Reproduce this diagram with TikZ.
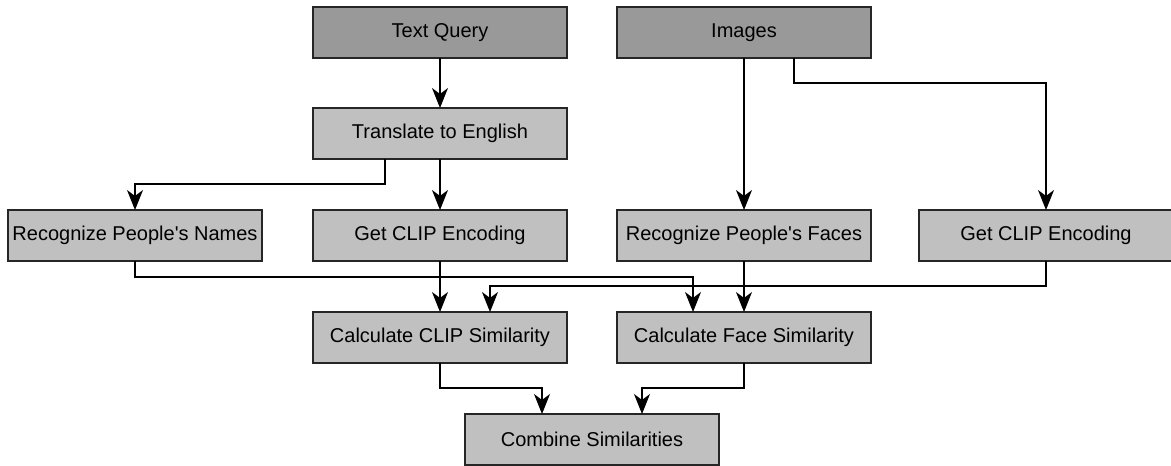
\documentclass[tikz,border=0pt]{standalone}
\usepackage{fontspec}
\setmainfont{Liberation Sans}[Ligatures=TeXOff]
\usepackage{tikz}
\usetikzlibrary{arrows.meta, positioning, calc}
\definecolor{boxgray}{HTML}{C0C0C0}
\definecolor{ingray}{HTML}{999999}
\definecolor{edgegray}{HTML}{262626}
\tikzset{%
    boxsty/.style={
        draw=edgegray,
        fill=boxgray,
        line width=1.3pt,
        align=center,
        inner sep=0pt,
        outer sep=0pt,
        minimum height=51pt,
        minimum width=254pt,
        font=\fontsize{20}{24}\selectfont,
    },
    insty/.style={
        boxsty,
        fill=ingray,
    },
    arrsty/.style={
        draw=black,
        line width=1.2pt,
        -{Stealth[length=20pt,width=16pt,inset=6pt]},
    },
}
\begin{document}
\begin{tikzpicture}[x=1pt,y=1pt,node distance=50pt]
\useasboundingbox (0,0) rectangle (1171,-466);

% input nodes
\node (query) [insty] at (440,-32.5) {Text Query};
\node (images) [insty,right=50 of query] {Images};

% processing nodes
\node (translate) [boxsty,below=50 of query] {Translate to English};
\node (clipenc) [boxsty,below=51 of translate] {Get CLIP Encoding};
\node (names) [boxsty,left=51 of clipenc] {Recognize People's Names};
\node (faces) [boxsty,right=50 of clipenc] {Recognize People's Faces};
\node (clipimg) [boxsty,right=48 of faces] {Get CLIP Encoding};
\node (clipsim) [boxsty,below=51 of clipenc] {Calculate CLIP Similarity};
\node (facesim) [boxsty,below=51 of faces] {Calculate Face Similarity};
\coordinate (mid) at ($(clipsim.south)!.5!(facesim.south)$);
\node (combine) [boxsty,below=51 of mid] {Combine Similarities};

% connectors
\draw[arrsty] (query) -- (translate);
\draw[arrsty] ([xshift=-55]translate.south) -- ++(0,-25) -| (names.north);
\draw[arrsty] (translate) -- (clipenc);
\draw[arrsty] (images) -- (faces);
\draw[arrsty] ([xshift=50]images.south) -- ++(0,-25) -| (clipimg.north);
\draw[arrsty] (names.south) -- ++(0,-16) -| ([xshift=-51]facesim.north);
\draw[arrsty] (clipenc) -- (clipsim);
\draw[arrsty] (clipimg.south) -- ++(0,-25) -| ([xshift=50]clipsim.north);
\draw[arrsty] (faces) -- (facesim);
\draw[arrsty] (clipsim.south) -- ++(0,-25) -| ([xshift=-50]combine.north);
\draw[arrsty] (facesim.south) -- ++(0,-25) -| ([xshift=50]combine.north);

\end{tikzpicture}
\end{document}
